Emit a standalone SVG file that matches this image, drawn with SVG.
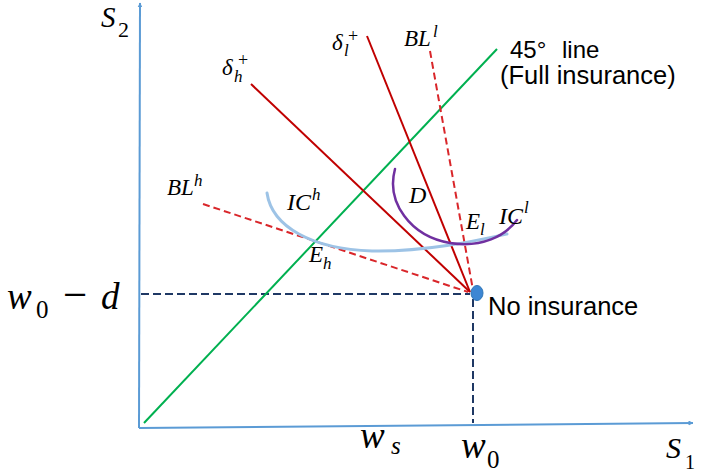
<svg xmlns="http://www.w3.org/2000/svg" width="703" height="475" viewBox="0 0 703 475">
<style>
  .axis{stroke:#5B9BD5;stroke-width:2;fill:none}
  .green{stroke:#00B050;stroke-width:2;fill:none}
  .red{stroke:#C00000;stroke-width:2;fill:none}
  .reddash{stroke:#D9262A;stroke-width:2;fill:none;stroke-dasharray:7 4}
  .navydash{stroke:#1F3864;stroke-width:2;fill:none;stroke-dasharray:8 4}
  .math{font-family:"Liberation Serif","DejaVu Serif",serif;font-style:italic;fill:#000}
  .up{font-style:normal}
  .sans{font-family:"Liberation Sans",Arial,sans-serif;fill:#000}
</style>
<defs>
  <marker id="arr" viewBox="0 0 10 10" refX="9" refY="5" markerWidth="5" markerHeight="5" orient="auto" markerUnits="userSpaceOnUse">
    <path d="M0,0 L10,5 L0,10 z" fill="#5B9BD5"/>
  </marker>
</defs>
<rect width="703" height="475" fill="#fff"/>

<g id="axes">
  <line class="axis" x1="139" y1="428" x2="140" y2="3" marker-end="url(#arr)"/>
  <line class="axis" x1="139" y1="428" x2="693" y2="423" marker-end="url(#arr)"/>
</g>

<g id="connectors">
  <line class="navydash" x1="141" y1="294" x2="470" y2="294"/>
  <line class="navydash" x1="473" y1="299" x2="473" y2="423"/>
  <line class="green" x1="144" y1="423" x2="497" y2="49"/>
  <line class="red" x1="251" y1="84" x2="470" y2="292"/>
  <line class="red" x1="367" y1="36" x2="470" y2="292"/>
  <line class="reddash" x1="430" y1="51" x2="473" y2="290"/>
  <line class="reddash" x1="203" y1="204" x2="468" y2="292"/>
  <path id="ICh" d="M267,193 C272,227 312,249 372,251 C425,252 475,241 507,234" stroke="#9DC3E6" stroke-width="3" fill="none" stroke-linecap="round"/>
  <path id="ICl" d="M395,169 C386,202 410,236 450,243 C482,248 505,236 517,220" stroke="#7030A0" stroke-width="2.5" fill="none" stroke-linecap="round"/>
</g>

<g id="noinsurance">
  <ellipse cx="477" cy="293" rx="6" ry="7.5" fill="#3C86D3" stroke="#2E75B6" stroke-width="1"/>
  <text class="sans" x="488" y="315" font-size="25.5">No insurance</text>
</g>

<g id="fullline-label">
  <text class="sans" x="510" y="58" font-size="24">45°<tspan x="562">line</tspan></text>
  <text class="sans" x="500" y="84" font-size="25.5">(Full insurance)</text>
</g>

<g id="labels">
  <text class="math" x="101" y="27" font-size="29">S<tspan class="up" x="118" y="37" font-size="22">2</tspan></text>
  <text class="math" x="666" y="458" font-size="30">S<tspan class="up" x="685" y="469" font-size="20">1</tspan></text>
  <text class="math" x="360" y="448" font-size="37">w<tspan x="391" y="454" font-size="25">s</tspan></text>
  <text class="math" x="461" y="458" font-size="37">w<tspan class="up" x="487" y="468" font-size="25">0</tspan></text>
  <text class="math" x="7" y="309" font-size="37">w<tspan class="up" x="36" y="318" font-size="25">0</tspan><tspan class="up" x="63" y="309" font-size="43">−</tspan><tspan x="101" y="309">d</tspan></text>

  <text class="math" x="222" y="75" font-size="23">δ<tspan x="234" y="82" font-size="17">h</tspan><tspan class="up" x="238" y="66" font-size="18">+</tspan></text>
  <text class="math" x="332" y="50" font-size="23">δ<tspan x="344" y="56" font-size="17">l</tspan><tspan class="up" x="348" y="42" font-size="18">+</tspan></text>
  <text class="math" x="404" y="46" font-size="23">BL<tspan x="433" y="37" font-size="17">l</tspan></text>
  <text class="math" x="167" y="195" font-size="23">BL<tspan x="194" y="186" font-size="17">h</tspan></text>
  <text class="math" x="287" y="210" font-size="24">IC<tspan x="312" y="200" font-size="17">h</tspan></text>
  <text class="math" x="409" y="203" font-size="24">D</text>
  <text class="math" x="466" y="229" font-size="23">E<tspan x="480" y="235" font-size="17">l</tspan></text>
  <text class="math" x="499" y="224" font-size="24">IC<tspan x="524" y="213" font-size="17">l</tspan></text>
  <text class="math" x="309" y="262" font-size="23">E<tspan x="323" y="269" font-size="17">h</tspan></text>
</g>
</svg>
